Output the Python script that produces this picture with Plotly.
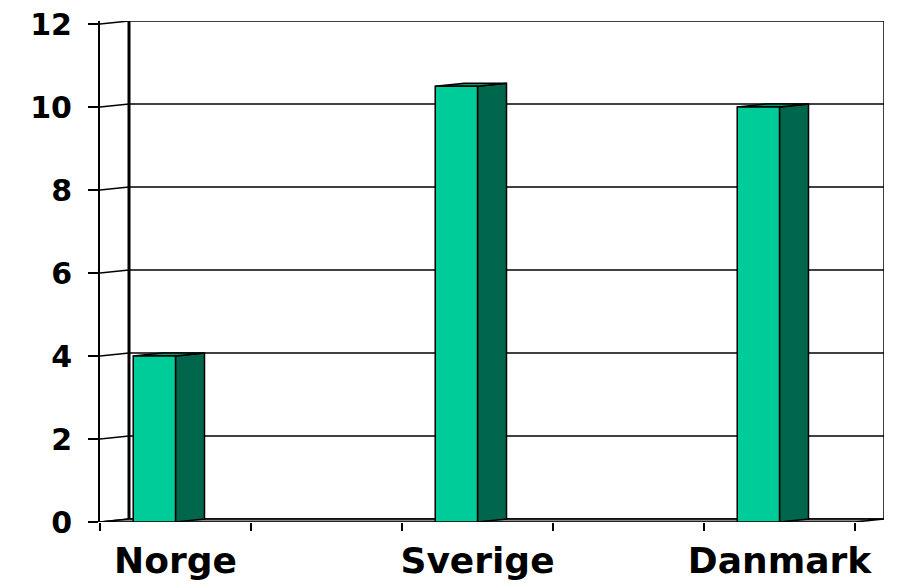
import plotly.graph_objects as go

# ---- data ----
categories = ["Norge", "Sverige", "Danmark"]
values = [4, 10.5, 10]
y_ticks = [0, 2, 4, 6, 8, 10, 12]

# ---- 3D look parameters (in axis units) ----
N_SLOTS = 5            # category axis slots (categories sit in every other slot)
DX = 29 / 151          # depth offset along x
DY = 3 / 41.5          # depth offset along y
BAR_W = 0.28           # front face width
YMAX = max(y_ticks)

FRONT = "#00CC99"
SIDE = "#00664C"
TOP = "#009970"
FLOOR = "#8C8C8C"

positions = [2 * i + 0.5 for i in range(len(categories))]

fig = go.Figure()

def poly(xs, ys, fill, lw=1.5, lc="black", closed=True):
    if closed:
        xs = list(xs) + [xs[0]]
        ys = list(ys) + [ys[0]]
    fig.add_trace(go.Scatter(
        x=xs, y=ys, mode="lines",
        fill="toself" if fill else None,
        fillcolor=fill if fill else None,
        line=dict(color=lc, width=lw),
        cliponaxis=False,
        hoverinfo="skip", showlegend=False))

# back wall gridlines
for t in y_ticks:
    poly([DX, N_SLOTS + DX], [t + DY, t + DY], None, lw=1.5, closed=False)
    # left wall connectors
    poly([0, DX], [t, t + DY], None, lw=1.5, closed=False)
# back wall vertical edges
poly([DX, DX], [DY, YMAX + DY], None, lw=3, closed=False)
poly([N_SLOTS + DX, N_SLOTS + DX], [DY, YMAX + DY], None, lw=1.5, closed=False)

# floor
poly([0, N_SLOTS, N_SLOTS + DX, DX], [0, 0, DY, DY], FLOOR, lw=1.5)

# bars
for c, v in zip(positions, values):
    x0, x1 = c - BAR_W, c
    # side
    poly([x1, x1 + DX, x1 + DX, x1], [0, DY, v + DY, v], SIDE, lw=1.5)
    # top
    poly([x0, x1, x1 + DX, x0 + DX], [v, v, v + DY, v + DY], TOP, lw=1.5)
    # front
    poly([x0, x1, x1, x0], [0, 0, v, v], FRONT, lw=1.5)

fig.update_layout(
    width=910, height=584,
    margin=dict(l=100, r=26, t=21, b=62, autoexpand=False),
    paper_bgcolor="white", plot_bgcolor="white",
    showlegend=False,
    xaxis=dict(
        range=[0, N_SLOTS + DX], automargin=False,
        showgrid=False, zeroline=False, showline=False,
        tickvals=positions, ticktext=categories,
        ticks="", ticklabelstandoff=14,
        tickfont=dict(family="DejaVu Sans", size=36, color="black", weight="bold"),
        minor=dict(tickvals=list(range(N_SLOTS + 1)), ticks="outside",
                   ticklen=8, tickwidth=1.5, tickcolor="black", showgrid=False),
        fixedrange=True,
    ),
    yaxis=dict(
        range=[0, YMAX + DY], automargin=False,
        showgrid=False, zeroline=False,
        showline=True, linecolor="black", linewidth=2,
        tickvals=y_ticks, ticks="outside", ticklen=10, tickwidth=1.5,
        tickcolor="black", ticklabelstandoff=10,
        tickfont=dict(family="DejaVu Sans", size=30, color="black", weight="bold"),
        fixedrange=True,
    ),
)

fig.write_html("out.html")
